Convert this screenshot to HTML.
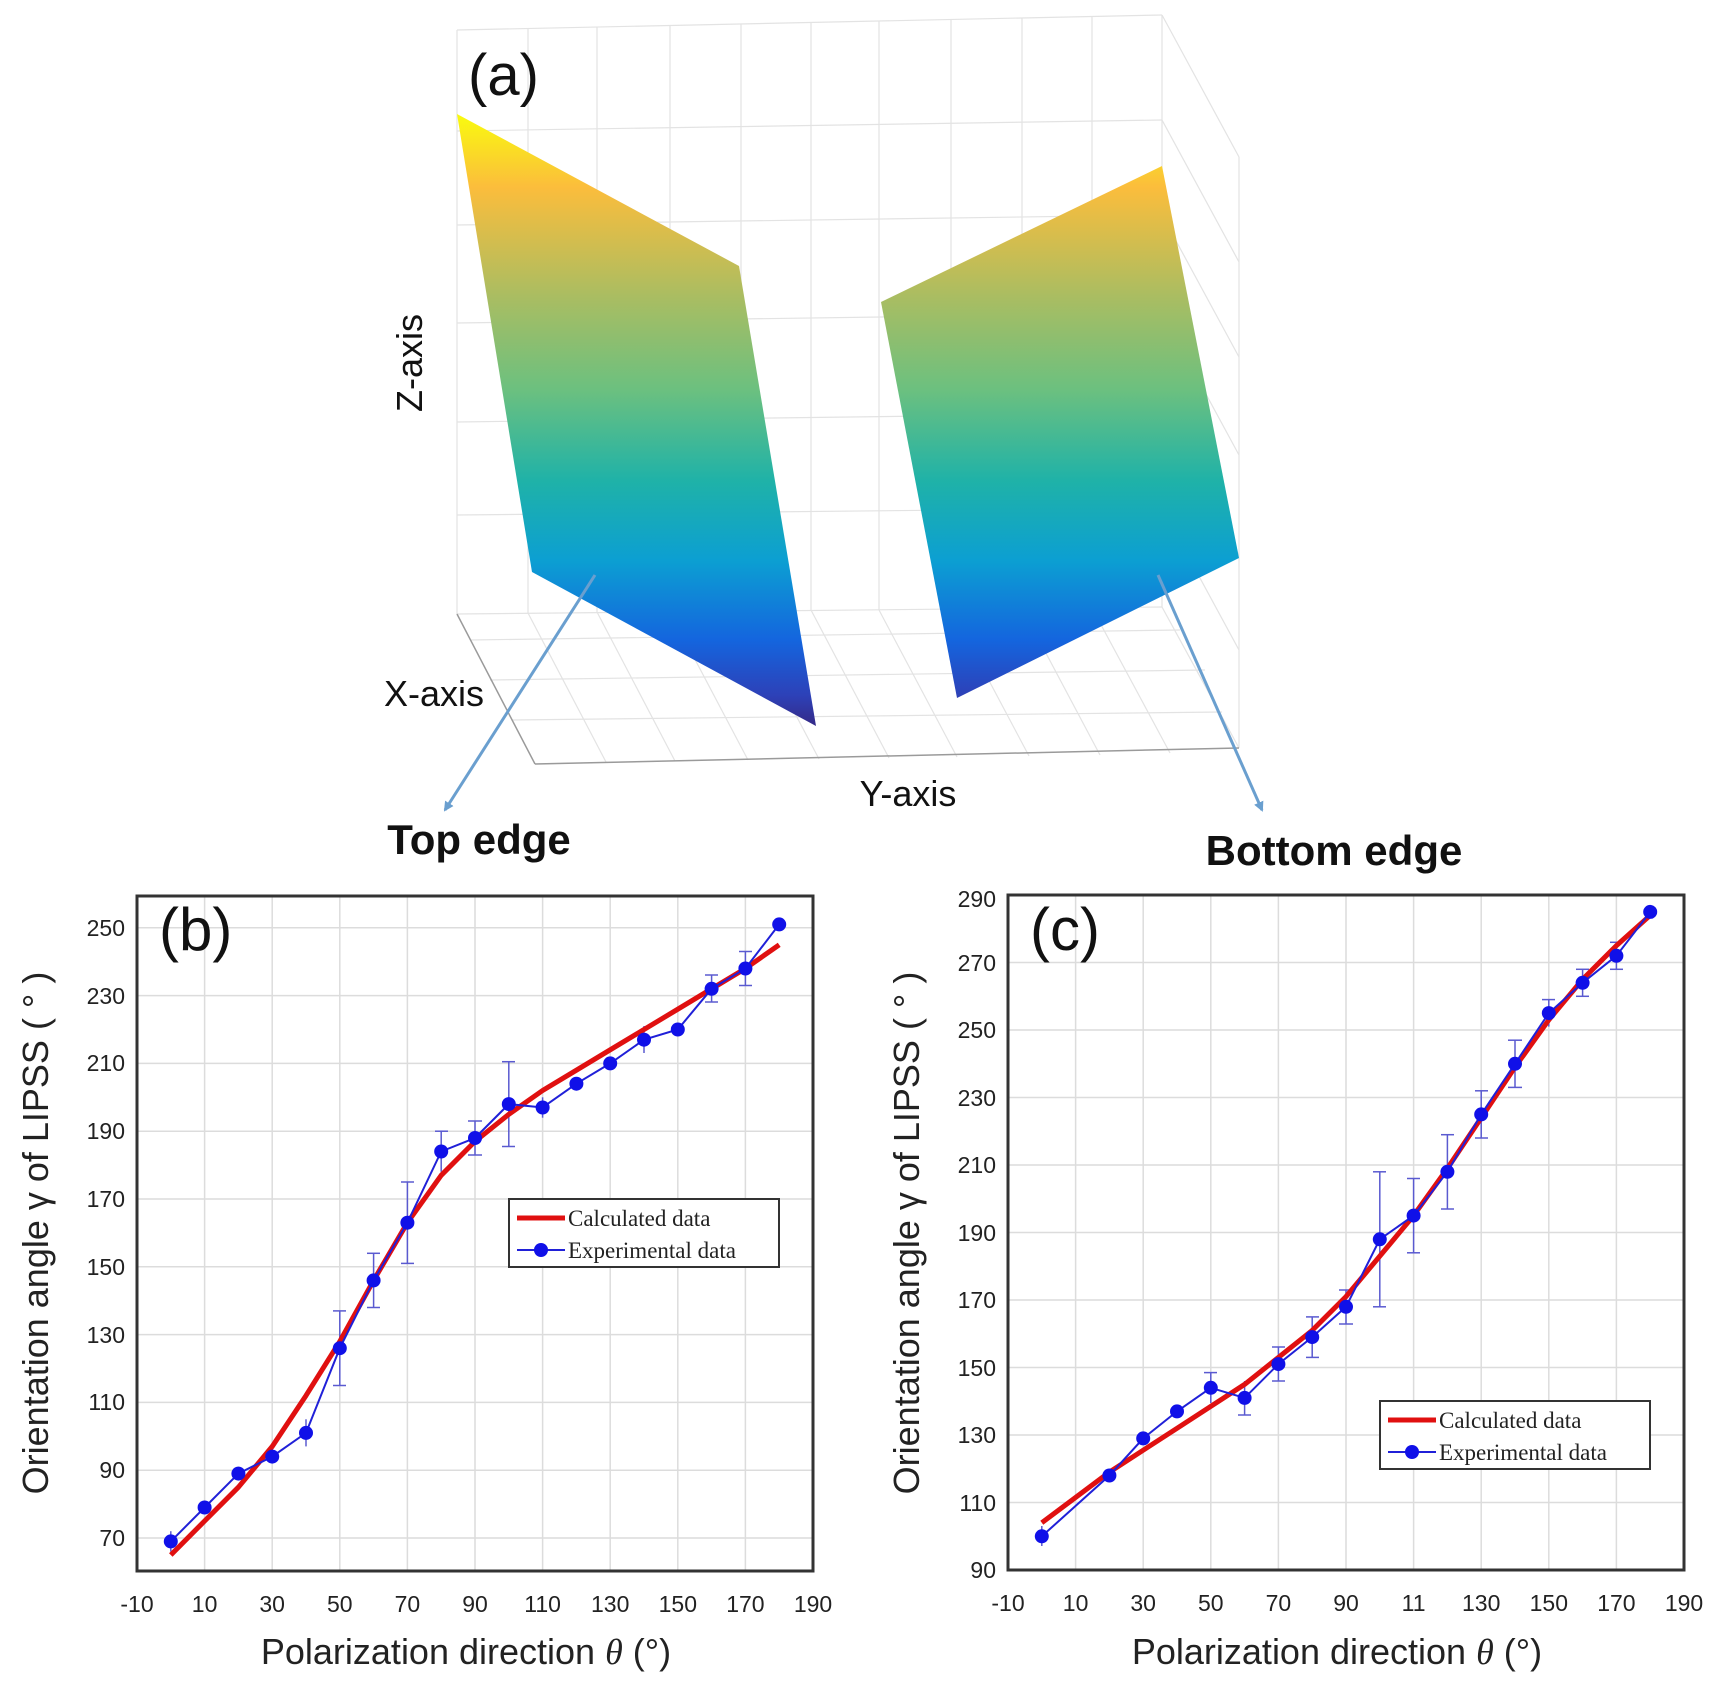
<!DOCTYPE html>
<html><head><meta charset="utf-8"><style>
html,body{margin:0;padding:0;background:#fff;}
svg{display:block;}
</style></head><body>
<svg width="1719" height="1695" viewBox="0 0 1719 1695" xmlns="http://www.w3.org/2000/svg" font-family="Liberation Sans, sans-serif">
<defs>
<linearGradient id="par" gradientUnits="userSpaceOnUse" x1="0" y1="114" x2="0" y2="726">
<stop offset="0" stop-color="#f9fb0e"/>
<stop offset="0.12" stop-color="#fbbd3c"/>
<stop offset="0.3" stop-color="#a9bd62"/>
<stop offset="0.45" stop-color="#6cc07f"/>
<stop offset="0.6" stop-color="#1fb2a8"/>
<stop offset="0.73" stop-color="#0c9fd2"/>
<stop offset="0.86" stop-color="#1465de"/>
<stop offset="0.95" stop-color="#2d41b8"/>
<stop offset="1" stop-color="#352a87"/>
</linearGradient>
<marker id="ah" markerWidth="10" markerHeight="10" refX="8" refY="5" orient="auto" markerUnits="userSpaceOnUse"><path d="M0,0 L10,5 L0,10 z" fill="#6a9fcf"/></marker>
</defs>

<!-- Panel (a) box grid -->
<g stroke="#e3e3e3" stroke-width="1.2" fill="none">
<line x1="457" y1="30" x2="1162" y2="15"/>
<line x1="457" y1="131" x2="1162" y2="120"/>
<line x1="457" y1="225" x2="1162" y2="215"/>
<line x1="457" y1="323" x2="1162" y2="313"/>
<line x1="457" y1="422" x2="1162" y2="413"/>
<line x1="457" y1="515" x2="1162" y2="508"/>
<line x1="457" y1="614" x2="1162" y2="607"/>
<line x1="457" y1="30" x2="457" y2="614"/>
<line x1="528" y1="29" x2="528" y2="613"/>
<line x1="597" y1="27" x2="597" y2="612"/>
<line x1="670" y1="26" x2="670" y2="612"/>
<line x1="741" y1="24" x2="741" y2="611"/>
<line x1="811" y1="23" x2="811" y2="610"/>
<line x1="879" y1="21" x2="879" y2="610"/>
<line x1="951" y1="20" x2="951" y2="609"/>
<line x1="1022" y1="18" x2="1022" y2="608"/>
<line x1="1092" y1="17" x2="1092" y2="608"/>
<line x1="1162" y1="15" x2="1162" y2="607"/>
<line x1="1162" y1="15" x2="1239" y2="157"/>
<line x1="1239" y1="157" x2="1239" y2="748"/>
<line x1="1162" y1="120" x2="1239" y2="262"/>
<line x1="1162" y1="215" x2="1239" y2="357"/>
<line x1="1162" y1="313" x2="1239" y2="455"/>
<line x1="1162" y1="413" x2="1239" y2="555"/>
<line x1="1162" y1="508" x2="1239" y2="650"/>
<line x1="1162" y1="607" x2="1239" y2="748"/>
<line x1="528" y1="613" x2="606" y2="762"/>
<line x1="597" y1="612" x2="675" y2="761"/>
<line x1="670" y1="612" x2="748" y2="760"/>
<line x1="741" y1="611" x2="819" y2="759"/>
<line x1="811" y1="610" x2="889" y2="758"/>
<line x1="879" y1="610" x2="957" y2="757"/>
<line x1="951" y1="609" x2="1029" y2="756"/>
<line x1="1022" y1="608" x2="1100" y2="755"/>
<line x1="1092" y1="608" x2="1170" y2="753"/>
<line x1="470" y1="640" x2="1180" y2="630"/>
<line x1="490" y1="680" x2="1205" y2="670"/>
<line x1="512" y1="720" x2="1222" y2="712"/>
</g>
<g stroke="#9a9a9a" stroke-width="1.5" fill="none">
<line x1="457" y1="614" x2="535" y2="764"/>
<line x1="535" y1="764" x2="1239" y2="748"/>
</g>
<polygon points="457,114 739,266 816,726 532,572" fill="url(#par)"/>
<polygon points="881,302 1162,166 1239,558 957,698" fill="url(#par)"/>
<line x1="595" y1="575" x2="445" y2="810" stroke="#6a9fcf" stroke-width="3" marker-end="url(#ah)"/>
<line x1="1158" y1="575" x2="1262" y2="810" stroke="#6a9fcf" stroke-width="3" marker-end="url(#ah)"/>
<text x="468" y="95" font-size="58" fill="#111">(a)</text>
<text transform="translate(422,363) rotate(-90)" text-anchor="middle" font-size="36" fill="#111">Z-axis</text>
<text x="484" y="706" text-anchor="end" font-size="36" fill="#111">X-axis</text>
<text x="908" y="806" text-anchor="middle" font-size="36" fill="#111">Y-axis</text>
<text x="479" y="854" text-anchor="middle" font-size="42" font-weight="bold" fill="#111">Top edge</text>
<text x="1334" y="865" text-anchor="middle" font-size="42" font-weight="bold" fill="#111">Bottom edge</text>

<!-- Panel (b) -->
<g stroke="#dcdcdc" stroke-width="1.5">
<line x1="204.6" y1="896" x2="204.6" y2="1571"/><line x1="272.2" y1="896" x2="272.2" y2="1571"/>
<line x1="339.8" y1="896" x2="339.8" y2="1571"/><line x1="407.4" y1="896" x2="407.4" y2="1571"/>
<line x1="475" y1="896" x2="475" y2="1571"/><line x1="542.6" y1="896" x2="542.6" y2="1571"/>
<line x1="610.2" y1="896" x2="610.2" y2="1571"/><line x1="677.8" y1="896" x2="677.8" y2="1571"/>
<line x1="745.4" y1="896" x2="745.4" y2="1571"/>
<line x1="137" y1="1538" x2="813" y2="1538"/><line x1="137" y1="1470.2" x2="813" y2="1470.2"/>
<line x1="137" y1="1402.4" x2="813" y2="1402.4"/><line x1="137" y1="1334.6" x2="813" y2="1334.6"/>
<line x1="137" y1="1266.8" x2="813" y2="1266.8"/><line x1="137" y1="1199" x2="813" y2="1199"/>
<line x1="137" y1="1131.2" x2="813" y2="1131.2"/><line x1="137" y1="1063.4" x2="813" y2="1063.4"/>
<line x1="137" y1="995.6" x2="813" y2="995.6"/><line x1="137" y1="927.8" x2="813" y2="927.8"/>
</g>
<rect x="137" y="896" width="676" height="675" fill="none" stroke="#333" stroke-width="3"/>
<g font-size="23" fill="#222" text-anchor="middle">
<text x="137" y="1612">-10</text><text x="204.6" y="1612">10</text><text x="272.2" y="1612">30</text>
<text x="339.8" y="1612">50</text><text x="407.4" y="1612">70</text><text x="475" y="1612">90</text>
<text x="542.6" y="1612">110</text><text x="610.2" y="1612">130</text><text x="677.8" y="1612">150</text>
<text x="745.4" y="1612">170</text><text x="813" y="1612">190</text>
</g>
<g font-size="23" fill="#222" text-anchor="end">
<text x="125" y="1546">70</text><text x="125" y="1478">90</text><text x="125" y="1410">110</text>
<text x="125" y="1343">130</text><text x="125" y="1275">150</text><text x="125" y="1207">170</text>
<text x="125" y="1139">190</text><text x="125" y="1071">210</text><text x="125" y="1004">230</text>
<text x="125" y="936">250</text>
</g>
<text x="159" y="950" font-size="60" fill="#111">(b)</text>
<g stroke="#5a5ad0" stroke-width="1.5">
<line x1="170.8" y1="1531.2" x2="170.8" y2="1551.6"/>
<line x1="238.4" y1="1466.8" x2="238.4" y2="1480.4"/>
<line x1="306" y1="1419.3" x2="306" y2="1446.4"/>
<line x1="339.8" y1="1310.9" x2="339.8" y2="1385.5"/><line x1="333" y1="1310.9" x2="346" y2="1310.9"/><line x1="333" y1="1385.5" x2="346" y2="1385.5"/>
<line x1="373.6" y1="1253.3" x2="373.6" y2="1307.5"/><line x1="367" y1="1253.3" x2="380" y2="1253.3"/><line x1="367" y1="1307.5" x2="380" y2="1307.5"/>
<line x1="407.4" y1="1182" x2="407.4" y2="1263.4"/><line x1="401" y1="1182" x2="414" y2="1182"/><line x1="401" y1="1263.4" x2="414" y2="1263.4"/>
<line x1="441.2" y1="1131.2" x2="441.2" y2="1171.8"/><line x1="435" y1="1131.2" x2="448" y2="1131.2"/>
<line x1="475" y1="1121" x2="475" y2="1155"/><line x1="468" y1="1121" x2="482" y2="1121"/><line x1="468" y1="1155" x2="482" y2="1155"/>
<line x1="508.8" y1="1061.7" x2="508.8" y2="1146.5"/><line x1="502" y1="1061.7" x2="515" y2="1061.7"/><line x1="502" y1="1146.5" x2="515" y2="1146.5"/>
<line x1="542.6" y1="1097.3" x2="542.6" y2="1117.7"/>
<line x1="644" y1="1026" x2="644" y2="1053"/>
<line x1="711.6" y1="975" x2="711.6" y2="1002"/><line x1="705" y1="975" x2="718" y2="975"/><line x1="705" y1="1002" x2="718" y2="1002"/>
<line x1="745.4" y1="951.5" x2="745.4" y2="985.5"/><line x1="739" y1="951.5" x2="752" y2="951.5"/><line x1="739" y1="985.5" x2="752" y2="985.5"/>
</g>
<polyline fill="none" stroke="#e01010" stroke-width="5" stroke-linejoin="round" points="170.8,1555 204.6,1521 238.4,1487.2 272.2,1446.5 306,1395.6 339.8,1341.4 373.6,1280.4 407.4,1222.7 441.2,1175.3 475,1141.4 508.8,1114.3 542.6,1090.5 576.4,1070.2 610.2,1049.8 644,1029.5 677.8,1009.2 711.6,988.8 745.4,968.5 779.2,944.8"/>
<polyline fill="none" stroke="#2020d8" stroke-width="2" points="170.8,1541.4 204.6,1507.5 238.4,1473.6 272.2,1456.6 306,1432.9 339.8,1348.2 373.6,1280.4 407.4,1222.7 441.2,1151.5 475,1138 508.8,1104.1 542.6,1107.5 576.4,1083.7 610.2,1063.4 644,1039.7 677.8,1029.5 711.6,988.8 745.4,968.5 779.2,924.4"/>
<g fill="#1010e8">
<circle cx="170.8" cy="1541.4" r="7"/><circle cx="204.6" cy="1507.5" r="7"/><circle cx="238.4" cy="1473.6" r="7"/>
<circle cx="272.2" cy="1456.6" r="7"/><circle cx="306" cy="1432.9" r="7"/><circle cx="339.8" cy="1348.2" r="7"/>
<circle cx="373.6" cy="1280.4" r="7"/><circle cx="407.4" cy="1222.7" r="7"/><circle cx="441.2" cy="1151.5" r="7"/>
<circle cx="475" cy="1138" r="7"/><circle cx="508.8" cy="1104.1" r="7"/><circle cx="542.6" cy="1107.5" r="7"/>
<circle cx="576.4" cy="1083.7" r="7"/><circle cx="610.2" cy="1063.4" r="7"/><circle cx="644" cy="1039.7" r="7"/>
<circle cx="677.8" cy="1029.5" r="7"/><circle cx="711.6" cy="988.8" r="7"/><circle cx="745.4" cy="968.5" r="7"/>
<circle cx="779.2" cy="924.4" r="7"/>
</g>
<rect x="509" y="1199" width="270" height="68" fill="#fff" stroke="#333" stroke-width="2"/>
<line x1="517" y1="1218" x2="565" y2="1218" stroke="#e01010" stroke-width="5"/>
<line x1="517" y1="1250" x2="565" y2="1250" stroke="#2020d8" stroke-width="2"/>
<circle cx="541" cy="1250" r="7" fill="#1010e8"/>
<text x="568" y="1226" font-family="Liberation Serif, serif" font-size="23" fill="#222">Calculated data</text>
<text x="568" y="1258" font-family="Liberation Serif, serif" font-size="23" fill="#222">Experimental data</text>
<text x="466" y="1664" text-anchor="middle" font-size="36" fill="#222">Polarization direction <tspan font-style="italic" font-family="Liberation Serif, serif">θ</tspan> (°)</text>
<text transform="translate(48,1233) rotate(-90)" text-anchor="middle" font-size="36" fill="#222">Orientation angle γ of LIPSS ( ° )</text>

<!-- Panel (c) -->
<g stroke="#dcdcdc" stroke-width="1.5">
<line x1="1075.6" y1="895" x2="1075.6" y2="1570"/><line x1="1143.2" y1="895" x2="1143.2" y2="1570"/>
<line x1="1210.8" y1="895" x2="1210.8" y2="1570"/><line x1="1278.4" y1="895" x2="1278.4" y2="1570"/>
<line x1="1346" y1="895" x2="1346" y2="1570"/><line x1="1413.6" y1="895" x2="1413.6" y2="1570"/>
<line x1="1481.2" y1="895" x2="1481.2" y2="1570"/><line x1="1548.8" y1="895" x2="1548.8" y2="1570"/>
<line x1="1616.4" y1="895" x2="1616.4" y2="1570"/>
<line x1="1008" y1="1502.5" x2="1684" y2="1502.5"/><line x1="1008" y1="1435" x2="1684" y2="1435"/>
<line x1="1008" y1="1367.5" x2="1684" y2="1367.5"/><line x1="1008" y1="1300" x2="1684" y2="1300"/>
<line x1="1008" y1="1232.5" x2="1684" y2="1232.5"/><line x1="1008" y1="1165" x2="1684" y2="1165"/>
<line x1="1008" y1="1097.5" x2="1684" y2="1097.5"/><line x1="1008" y1="1030" x2="1684" y2="1030"/>
<line x1="1008" y1="962.5" x2="1684" y2="962.5"/>
</g>
<rect x="1008" y="895" width="676" height="675" fill="none" stroke="#333" stroke-width="3"/>
<g font-size="23" fill="#222" text-anchor="middle">
<text x="1008" y="1611">-10</text><text x="1075.6" y="1611">10</text><text x="1143.2" y="1611">30</text>
<text x="1210.8" y="1611">50</text><text x="1278.4" y="1611">70</text><text x="1346" y="1611">90</text>
<text x="1413.6" y="1611">11</text><text x="1481.2" y="1611">130</text><text x="1548.8" y="1611">150</text>
<text x="1616.4" y="1611">170</text><text x="1684" y="1611">190</text>
</g>
<g font-size="23" fill="#222" text-anchor="end">
<text x="996" y="1578">90</text><text x="996" y="1511">110</text><text x="996" y="1443">130</text>
<text x="996" y="1376">150</text><text x="996" y="1308">170</text><text x="996" y="1241">190</text>
<text x="996" y="1173">210</text><text x="996" y="1106">230</text><text x="996" y="1038">250</text>
<text x="996" y="971">270</text><text x="996" y="907">290</text>
</g>
<text x="1030" y="950" font-size="60" fill="#111">(c)</text>
<g stroke="#5a5ad0" stroke-width="1.5">
<line x1="1041.8" y1="1526" x2="1041.8" y2="1546"/>
<line x1="1210.8" y1="1372.6" x2="1210.8" y2="1403"/><line x1="1204" y1="1372.6" x2="1217" y2="1372.6"/>
<line x1="1244.6" y1="1381" x2="1244.6" y2="1415"/><line x1="1238" y1="1415" x2="1251" y2="1415"/>
<line x1="1278.4" y1="1347" x2="1278.4" y2="1381"/><line x1="1272" y1="1347" x2="1285" y2="1347"/><line x1="1272" y1="1381" x2="1285" y2="1381"/>
<line x1="1312.2" y1="1316.9" x2="1312.2" y2="1357.4"/><line x1="1306" y1="1316.9" x2="1319" y2="1316.9"/><line x1="1306" y1="1357.4" x2="1319" y2="1357.4"/>
<line x1="1346" y1="1290" x2="1346" y2="1324"/><line x1="1339" y1="1290" x2="1353" y2="1290"/><line x1="1339" y1="1324" x2="1353" y2="1324"/>
<line x1="1379.8" y1="1171.8" x2="1379.8" y2="1306.8"/><line x1="1373" y1="1171.8" x2="1386" y2="1171.8"/><line x1="1373" y1="1306.8" x2="1386" y2="1306.8"/>
<line x1="1413.6" y1="1178.5" x2="1413.6" y2="1252.8"/><line x1="1407" y1="1178.5" x2="1420" y2="1178.5"/><line x1="1407" y1="1252.8" x2="1420" y2="1252.8"/>
<line x1="1447.4" y1="1134.7" x2="1447.4" y2="1209"/><line x1="1441" y1="1134.7" x2="1454" y2="1134.7"/><line x1="1441" y1="1209" x2="1454" y2="1209"/>
<line x1="1481.2" y1="1090.8" x2="1481.2" y2="1138"/><line x1="1475" y1="1090.8" x2="1488" y2="1090.8"/><line x1="1475" y1="1138" x2="1488" y2="1138"/>
<line x1="1515" y1="1040.2" x2="1515" y2="1087.4"/><line x1="1508" y1="1040.2" x2="1522" y2="1040.2"/><line x1="1508" y1="1087.4" x2="1522" y2="1087.4"/>
<line x1="1548.8" y1="999.6" x2="1548.8" y2="1026.6"/><line x1="1542" y1="999.6" x2="1555" y2="999.6"/>
<line x1="1582.6" y1="969.3" x2="1582.6" y2="996.3"/><line x1="1576" y1="969.3" x2="1589" y2="969.3"/><line x1="1576" y1="996.3" x2="1589" y2="996.3"/>
<line x1="1616.4" y1="942.3" x2="1616.4" y2="969.3"/><line x1="1610" y1="942.3" x2="1623" y2="942.3"/><line x1="1610" y1="969.3" x2="1623" y2="969.3"/>
</g>
<polyline fill="none" stroke="#e01010" stroke-width="5" stroke-linejoin="round" points="1041.8,1522.8 1109.4,1472.1 1177,1428.3 1244.6,1384.4 1278.4,1357.4 1312.2,1330.4 1346,1296.6 1379.8,1256.1 1413.6,1215.6 1447.4,1168.4 1481.2,1117.8 1515,1067.1 1548.8,1019.9 1582.6,979.4 1616.4,945.6 1650.2,915.3"/>
<polyline fill="none" stroke="#2020d8" stroke-width="2" points="1041.8,1536.3 1109.4,1475.5 1143.2,1438.4 1177,1411.4 1210.8,1387.8 1244.6,1397.9 1278.4,1364.1 1312.2,1337.1 1346,1306.8 1379.8,1239.3 1413.6,1215.6 1447.4,1171.8 1481.2,1114.4 1515,1063.8 1548.8,1013.1 1582.6,982.8 1616.4,955.8 1650.2,911.9"/>
<g fill="#1010e8">
<circle cx="1041.8" cy="1536.3" r="7"/><circle cx="1109.4" cy="1475.5" r="7"/><circle cx="1143.2" cy="1438.4" r="7"/>
<circle cx="1177" cy="1411.4" r="7"/><circle cx="1210.8" cy="1387.8" r="7"/><circle cx="1244.6" cy="1397.9" r="7"/>
<circle cx="1278.4" cy="1364.1" r="7"/><circle cx="1312.2" cy="1337.1" r="7"/><circle cx="1346" cy="1306.8" r="7"/>
<circle cx="1379.8" cy="1239.3" r="7"/><circle cx="1413.6" cy="1215.6" r="7"/><circle cx="1447.4" cy="1171.8" r="7"/>
<circle cx="1481.2" cy="1114.4" r="7"/><circle cx="1515" cy="1063.8" r="7"/><circle cx="1548.8" cy="1013.1" r="7"/>
<circle cx="1582.6" cy="982.8" r="7"/><circle cx="1616.4" cy="955.8" r="7"/><circle cx="1650.2" cy="911.9" r="7"/>
</g>
<rect x="1380" y="1401" width="270" height="68" fill="#fff" stroke="#333" stroke-width="2"/>
<line x1="1388" y1="1420" x2="1436" y2="1420" stroke="#e01010" stroke-width="5"/>
<line x1="1388" y1="1452" x2="1436" y2="1452" stroke="#2020d8" stroke-width="2"/>
<circle cx="1412" cy="1452" r="7" fill="#1010e8"/>
<text x="1439" y="1428" font-family="Liberation Serif, serif" font-size="23" fill="#222">Calculated data</text>
<text x="1439" y="1460" font-family="Liberation Serif, serif" font-size="23" fill="#222">Experimental data</text>
<text x="1337" y="1664" text-anchor="middle" font-size="36" fill="#222">Polarization direction <tspan font-style="italic" font-family="Liberation Serif, serif">θ</tspan> (°)</text>
<text transform="translate(919,1233) rotate(-90)" text-anchor="middle" font-size="36" fill="#222">Orientation angle γ of LIPSS ( ° )</text>
</svg>
</body></html>
